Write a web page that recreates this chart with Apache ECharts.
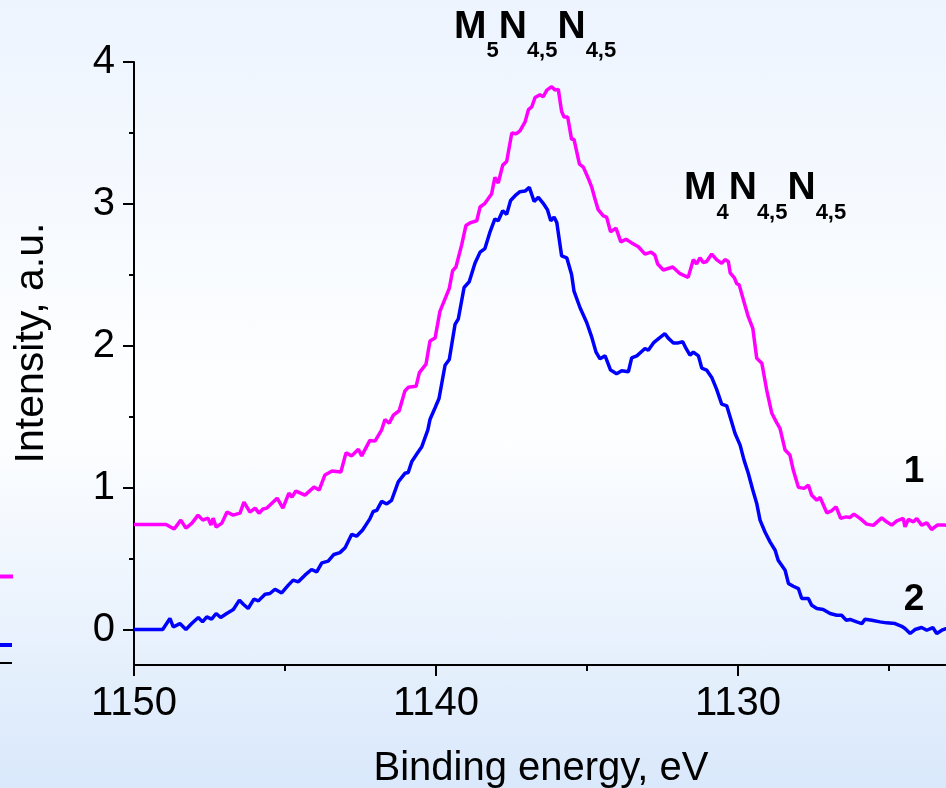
<!DOCTYPE html>
<html>
<head>
<meta charset="utf-8">
<script src="https://cdn.jsdelivr.net/npm/echarts@6/dist/echarts.min.js"></script>
<style>
  html, body { margin: 0; padding: 0; }
  #chart {
    width: 946px; height: 788px;
    background: linear-gradient(to bottom, #edf4fe 0%, #fbfdff 42%, #fdfeff 55%, #d9e8fb 100%);
  }
</style>
</head>
<body>
<div id="chart"></div>
<script>
// Spectrum 1 (magenta): binding energy, eV / intensity, a.u.
const energy1 = [
  1150, 1148.94, 1148.67, 1148.45, 1148.28, 1148.08, 1147.88, 1147.72, 1147.55, 1147.45,
  1147.38, 1147.28, 1147.09, 1146.92, 1146.72, 1146.49, 1146.36, 1146.16, 1145.99, 1145.86,
  1145.73, 1145.60, 1145.26, 1145.07, 1144.87, 1144.77, 1144.64, 1144.34, 1144.04, 1143.87,
  1143.68, 1143.44, 1143.15, 1142.98, 1142.79, 1142.57, 1142.46, 1142.19, 1142.02, 1141.80,
  1141.69, 1141.55, 1141.41, 1141.22, 1141.03, 1140.92, 1140.66, 1140.55, 1140.33, 1140.20,
  1140.03, 1139.87, 1139.56, 1139.45, 1139.34, 1139.15, 1139.01, 1138.85, 1138.65, 1138.54,
  1138.38, 1138.16, 1138.05, 1137.94, 1137.79, 1137.66, 1137.49, 1137.35, 1137.22, 1137.05,
  1136.94, 1136.83, 1136.72, 1136.56, 1136.45, 1136.33, 1136.17, 1136.06, 1135.95, 1135.84,
  1135.76, 1135.64, 1135.51, 1135.43, 1135.25, 1135.12, 1134.96, 1134.84, 1134.74, 1134.63,
  1134.46, 1134.35, 1134.22, 1134.04, 1133.88, 1133.71, 1133.52, 1133.30, 1133.08, 1132.88,
  1132.75, 1132.66, 1132.47, 1132.16, 1131.92, 1131.65, 1131.48, 1131.37, 1131.26, 1131.15,
  1131.04, 1130.87, 1130.71, 1130.54, 1130.43, 1130.32, 1130.26, 1130.12, 1130.04, 1129.96,
  1129.82, 1129.66, 1129.51, 1129.38, 1129.21, 1129.05, 1128.88, 1128.72, 1128.61, 1128.44,
  1128.28, 1128.17, 1128.00, 1127.81, 1127.67, 1127.56, 1127.39, 1127.28, 1127.06, 1126.90,
  1126.75, 1126.60, 1126.42, 1126.29, 1126.16, 1125.96, 1125.74, 1125.52, 1125.24, 1125.08,
  1124.91, 1124.74, 1124.53, 1124.47, 1124.36, 1124.19, 1124.08, 1123.92, 1123.75, 1123.59,
  1123.40, 1123.15, 1123.0
];
const intensity1 = [
  0.741, 0.741, 0.708, 0.771, 0.715, 0.750, 0.806, 0.771, 0.785, 0.736,
  0.785, 0.722, 0.750, 0.828, 0.806, 0.820, 0.898, 0.828, 0.856, 0.820,
  0.849, 0.856, 0.926, 0.856, 0.962, 0.933, 0.976, 0.947, 1.004, 0.983,
  1.089, 1.117, 1.110, 1.245, 1.224, 1.271, 1.224, 1.333, 1.328, 1.407,
  1.480, 1.454, 1.511, 1.542, 1.681, 1.707, 1.714, 1.811, 1.871, 2.033,
  2.054, 2.242, 2.404, 2.529, 2.555, 2.711, 2.847, 2.868, 2.881, 2.978,
  3.004, 3.069, 3.187, 3.147, 3.273, 3.299, 3.500, 3.494, 3.515, 3.578,
  3.664, 3.683, 3.750, 3.769, 3.755, 3.802, 3.826, 3.802, 3.807, 3.651,
  3.612, 3.612, 3.455, 3.455, 3.280, 3.259, 3.181, 3.116, 3.038, 2.959,
  2.915, 2.907, 2.803, 2.829, 2.732, 2.751, 2.725, 2.698, 2.646, 2.660,
  2.638, 2.576, 2.534, 2.555, 2.508, 2.482, 2.607, 2.576, 2.620, 2.586,
  2.594, 2.646, 2.607, 2.581, 2.607, 2.594, 2.514, 2.478, 2.437, 2.429,
  2.323, 2.205, 2.123, 1.912, 1.877, 1.688, 1.524, 1.458, 1.418, 1.265,
  1.230, 1.124, 1.002, 0.995, 1.018, 0.947, 0.912, 0.931, 0.823, 0.837,
  0.865, 0.783, 0.794, 0.790, 0.813, 0.783, 0.743, 0.734, 0.787, 0.759,
  0.736, 0.766, 0.783, 0.724, 0.776, 0.759, 0.783, 0.736, 0.752, 0.705,
  0.736, 0.736, 0.730
];

// Spectrum 2 (blue)
const energy2 = [
  1150, 1149.05, 1148.81, 1148.70, 1148.48, 1148.28, 1148.09, 1147.87, 1147.73, 1147.59,
  1147.43, 1147.28, 1147.13, 1146.93, 1146.71, 1146.51, 1146.38, 1146.22, 1146.03, 1145.88,
  1145.66, 1145.50, 1145.33, 1145.11, 1144.89, 1144.73, 1144.56, 1144.34, 1144.12, 1143.95,
  1143.78, 1143.57, 1143.38, 1143.18, 1143.01, 1142.79, 1142.63, 1142.43, 1142.19, 1142.08,
  1141.96, 1141.80, 1141.63, 1141.47, 1141.25, 1141.03, 1140.92, 1140.80, 1140.62, 1140.47,
  1140.27, 1140.20, 1140.03, 1139.90, 1139.70, 1139.56, 1139.37, 1139.26, 1139.07, 1138.90,
  1138.71, 1138.54, 1138.38, 1138.21, 1138.05, 1137.94, 1137.79, 1137.66, 1137.53, 1137.35,
  1137.22, 1137.05, 1136.91, 1136.75, 1136.61, 1136.45, 1136.31, 1136.20, 1136.09, 1136.00,
  1135.84, 1135.67, 1135.51, 1135.43, 1135.23, 1135.01, 1134.84, 1134.70, 1134.57, 1134.40,
  1134.22, 1134.02, 1133.85, 1133.63, 1133.52, 1133.35, 1133.19, 1133.08, 1132.97, 1132.80,
  1132.61, 1132.42, 1132.31, 1132.14, 1131.98, 1131.83, 1131.72, 1131.59, 1131.48, 1131.31,
  1131.20, 1131.04, 1130.87, 1130.71, 1130.54, 1130.37, 1130.23, 1130.10, 1129.93, 1129.80,
  1129.66, 1129.51, 1129.38, 1129.27, 1129.11, 1128.94, 1128.77, 1128.67, 1128.44, 1128.33,
  1128.17, 1128.00, 1127.89, 1127.67, 1127.56, 1127.39, 1127.18, 1126.95, 1126.73, 1126.57,
  1126.42, 1126.29, 1126.07, 1125.90, 1125.79, 1125.57, 1125.30, 1125.08, 1124.80, 1124.58,
  1124.47, 1124.30, 1124.14, 1123.92, 1123.75, 1123.55, 1123.42, 1123.25, 1123.11, 1123.0
];
const intensity2 = [
  0, 0, 0.078, 0.018, 0.042, 0, 0.042, 0.085, 0.054, 0.089,
  0.073, 0.113, 0.085, 0.113, 0.141, 0.207, 0.178, 0.148, 0.214, 0.202,
  0.249, 0.254, 0.284, 0.258, 0.313, 0.348, 0.336, 0.383, 0.423, 0.406,
  0.470, 0.482, 0.529, 0.542, 0.577, 0.671, 0.658, 0.702, 0.780, 0.832,
  0.840, 0.903, 0.885, 0.911, 1.041, 1.101, 1.107, 1.185, 1.242, 1.289,
  1.407, 1.480, 1.563, 1.628, 1.863, 1.903, 2.150, 2.190, 2.411, 2.451,
  2.581, 2.660, 2.685, 2.803, 2.894, 2.881, 2.952, 2.926, 3.024, 3.064,
  3.086, 3.090, 3.116, 3.017, 3.046, 3.004, 2.959, 2.881, 2.907, 2.868,
  2.633, 2.620, 2.503, 2.385, 2.268, 2.164, 2.059, 1.955, 1.908, 1.929,
  1.829, 1.803, 1.824, 1.817, 1.915, 1.929, 1.960, 1.981, 1.968, 2.020,
  2.054, 2.085, 2.054, 2.020, 2.020, 2.028, 1.981, 1.934, 1.955, 1.929,
  1.843, 1.829, 1.777, 1.694, 1.589, 1.576, 1.477, 1.383, 1.300, 1.194,
  1.101, 0.983, 0.889, 0.771, 0.689, 0.618, 0.559, 0.489, 0.418, 0.325,
  0.305, 0.289, 0.219, 0.219, 0.171, 0.148, 0.141, 0.113, 0.101, 0.101,
  0.066, 0.071, 0.054, 0.042, 0.073, 0.066, 0.054, 0.047, 0.042, 0.023,
  0.007, -0.028, 0.0, 0.014, -0.005, 0.014, -0.028, -0.005, 0.007, 0.0
];

// Axis ticks
const yMajorTicks = [0, 1, 2, 3, 4];
const yMinorTicks = [0.5, 1.5, 2.5, 3.5];

const FONT = '"Liberation Sans", Arial, Helvetica, sans-serif';
const BLACK = '#000000';

function zip(xs, ys) {
  const n = Math.min(xs.length, ys.length);
  const out = [];
  for (let i = 0; i < n; i++) out.push([xs[i], ys[i]]);
  return out;
}

const chart = echarts.init(document.getElementById('chart'), null, { renderer: 'canvas' });

const tickStyle = { color: BLACK, width: 2 };

const richLabel = {
  m: { fontSize: 39, fontWeight: 'bold', fontFamily: FONT, fill: BLACK, lineHeight: 40, verticalAlign: 'top' },
  s: { fontSize: 22, fontWeight: 'bold', fontFamily: FONT, fill: BLACK, lineHeight: 87, verticalAlign: 'middle' }
};

chart.setOption({
  animation: false,
  backgroundColor: 'transparent',
  // the energy axis runs on to 1120 eV, past the right edge of the panel
  grid: { left: 134, top: 62, bottom: 123, right: -94, containLabel: false, outerBoundsMode: 'none' },
  xAxis: {
    type: 'value',
    min: 1120, max: 1150, interval: 10,
    inverse: true,
    axisLine: { show: true, onZero: false, lineStyle: tickStyle },
    axisTick: { show: true, length: 11, lineStyle: tickStyle },
    minorTick: { show: true, splitNumber: 2, length: 6, lineStyle: tickStyle },
    splitLine: { show: false },
    axisLabel: { color: BLACK, fontSize: 40, fontFamily: FONT, margin: 19, formatter: v => String(v) }
  },
  yAxis: [
    {
      type: 'value', min: -0.25, max: 4, position: 'left',
      axisLine: { show: true, onZero: false, lineStyle: tickStyle },
      axisTick: { show: true, length: 11, customValues: yMajorTicks, lineStyle: tickStyle },
      axisLabel: { customValues: yMajorTicks, color: BLACK, fontSize: 40, fontFamily: FONT, margin: 19, formatter: v => String(v) },
      splitLine: { show: false }
    },
    {
      type: 'value', min: -0.25, max: 4, position: 'left', offset: 0,
      axisLine: { show: false },
      axisTick: { show: true, length: 5, customValues: yMinorTicks, lineStyle: tickStyle },
      axisLabel: { show: false },
      splitLine: { show: false }
    }
  ],
  series: [
    {
      name: '1', type: 'line', yAxisIndex: 0,
      data: zip(energy1, intensity1),
      showSymbol: false, symbol: 'none',
      lineStyle: { color: '#ff00ff', width: 3.5 },
      itemStyle: { color: '#ff00ff' }
    },
    {
      name: '2', type: 'line', yAxisIndex: 0,
      data: zip(energy2, intensity2),
      showSymbol: false, symbol: 'none',
      lineStyle: { color: '#0000ff', width: 3.5 },
      itemStyle: { color: '#0000ff' }
    }
  ],
  graphic: [
    {
      type: 'text', x: 32, y: 343, rotation: Math.PI / 2,
      style: { text: 'Intensity, a.u.', fontSize: 41, fontFamily: FONT, fill: BLACK, align: 'center', verticalAlign: 'middle' }
    },
    {
      type: 'text', x: 541, y: 769,
      style: { text: 'Binding energy, eV', fontSize: 40, fontFamily: FONT, fill: BLACK, align: 'center', verticalAlign: 'middle' }
    },
    {
      type: 'text', x: 454, y: 7.5,
      style: { text: '{m|M}{s|5}{m|N}{s|4,5}{m|N}{s|4,5}', rich: richLabel, align: 'left', verticalAlign: 'top' }
    },
    {
      type: 'text', x: 684, y: 169,
      style: { text: '{m|M}{s|4}{m|N}{s|4,5}{m|N}{s|4,5}', rich: richLabel, align: 'left', verticalAlign: 'top' }
    },
    {
      type: 'text', x: 914, y: 472,
      style: { text: '1', fontSize: 37, fontWeight: 'bold', fontFamily: FONT, fill: BLACK, align: 'center', verticalAlign: 'middle' }
    },
    {
      type: 'text', x: 914, y: 600,
      style: { text: '2', fontSize: 37, fontWeight: 'bold', fontFamily: FONT, fill: BLACK, align: 'center', verticalAlign: 'middle' }
    },
    // legend keys from the neighbouring panel, cut by the left edge
    { type: 'line', shape: { x1: 0, y1: 576.5, x2: 13, y2: 576.5 }, style: { stroke: '#ff00ff', lineWidth: 4 } },
    { type: 'line', shape: { x1: 0, y1: 645, x2: 12, y2: 645 }, style: { stroke: '#0000ff', lineWidth: 4 } },
    { type: 'line', shape: { x1: 0, y1: 663, x2: 12, y2: 663 }, style: { stroke: BLACK, lineWidth: 2 } }
  ]
});
</script>
</body>
</html>
